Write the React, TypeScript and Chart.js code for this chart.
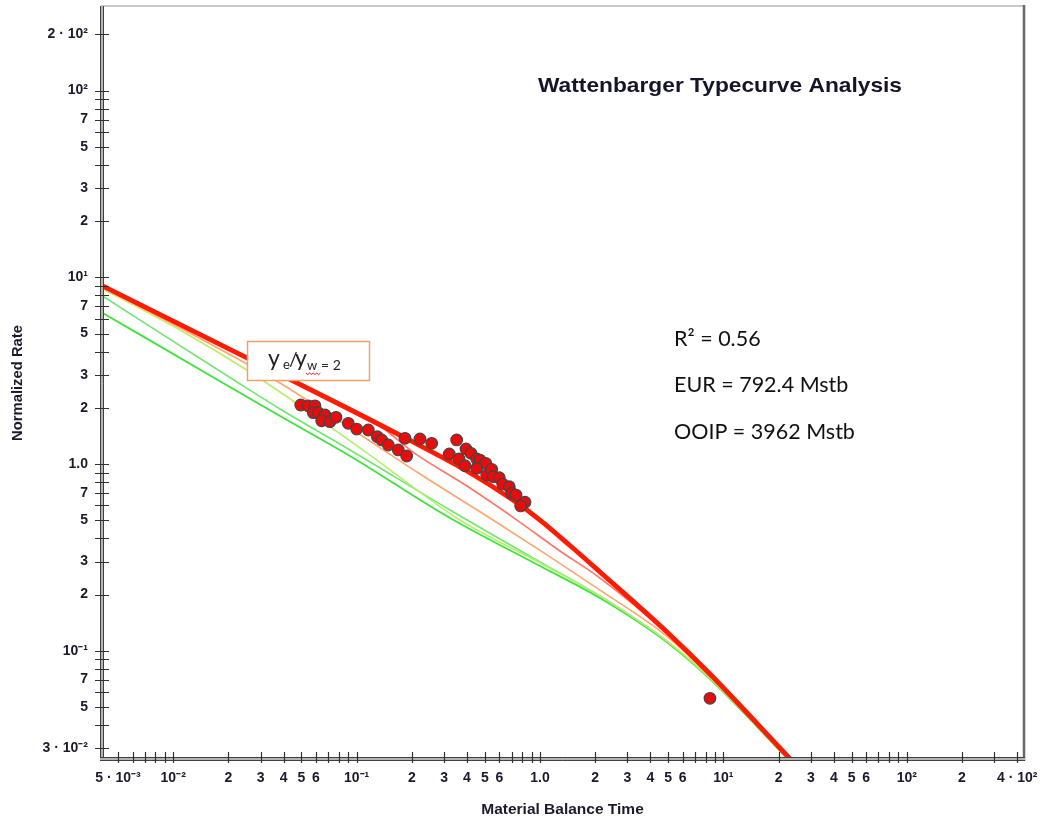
import React, { useEffect, useRef } from 'react';
import { Chart, registerables } from 'chart.js';

Chart.register(...registerables);

// ---- Tick values and labels ----
const X_TICKS = [0.005, 0.006, 0.007, 0.008, 0.009, 0.01, 0.02, 0.03, 0.04, 0.05, 0.06, 0.07, 0.08, 0.09, 0.1, 0.2, 0.3, 0.4, 0.5, 0.6, 0.7, 0.8, 0.9, 1, 2, 3, 4, 5, 6, 7, 8, 9, 10, 20, 30, 40, 50, 60, 70, 80, 90, 100, 200, 300, 400];
const X_LABELS = ['5 · 10⁻³', '', '', '', '', '10⁻²', '2', '3', '4', '5', '6', '', '', '', '10⁻¹', '2', '3', '4', '5', '6', '', '', '', '1.0', '2', '3', '4', '5', '6', '', '', '', '10¹', '2', '3', '4', '5', '6', '', '', '', '10²', '2', '', '4 · 10²'];
const Y_TICKS = [0.03, 0.04, 0.05, 0.06, 0.07, 0.08, 0.09, 0.1, 0.2, 0.3, 0.4, 0.5, 0.6, 0.7, 0.8, 0.9, 1, 2, 3, 4, 5, 6, 7, 8, 9, 10, 20, 30, 40, 50, 60, 70, 80, 90, 100, 200];
const Y_LABELS = ['3 · 10⁻²', '', '5', '', '7', '', '', '10⁻¹', '2', '3', '', '5', '', '7', '', '', '1.0', '2', '3', '', '5', '', '7', '', '', '10¹', '2', '3', '', '5', '', '7', '', '', '10²', '2 · 10²'];

// ---- Measured data (material balance time, normalized rate) ----
const DATA_MBT = [0.0496, 0.0545, 0.0593, 0.0581, 0.0618, 0.0673, 0.0645, 0.0716, 0.0772, 0.0901, 0.1001, 0.1158, 0.1297, 0.137, 0.1489, 0.1688, 0.1875, 0.1836, 0.2216, 0.2567, 0.3513, 0.3202, 0.3617, 0.3901, 0.395, 0.4205, 0.4517, 0.4709, 0.5058, 0.4517, 0.5122, 0.5452, 0.5563, 0.6001, 0.626, 0.6803, 0.7008, 0.7399, 0.8283, 0.7848, 8.45];
const DATA_RATE = [2.07, 2.05, 2.05, 1.883, 1.883, 1.831, 1.705, 1.685, 1.779, 1.652, 1.539, 1.521, 1.4, 1.345, 1.264, 1.189, 1.104, 1.373, 1.361, 1.291, 1.345, 1.131, 1.064, 0.979, 1.203, 1.141, 1.064, 1.05, 1.009, 0.948, 0.873, 0.937, 0.855, 0.845, 0.781, 0.756, 0.697, 0.682, 0.624, 0.596, 0.0556];

// ---- Type curves ----
const RED_T = [0.00404, 0.02526, 0.08866, 0.203, 0.3999, 0.7123, 1.0, 1.457, 2.124, 4.926, 8.454, 23.66];
const RED_Q = [9.09, 3.7, 1.995, 1.312, 0.917, 0.641, 0.501, 0.366, 0.264, 0.1259, 0.075, 0.0257];
const SALMON_T = [0.00404, 0.02526, 0.08866, 0.1341, 0.203, 0.3999, 0.749, 1.285, 2.124, 4.926, 8.454, 23.66];
const SALMON_Q = [9.09, 3.7, 1.983, 1.598, 1.159, 0.762, 0.501, 0.342, 0.245, 0.124, 0.0742, 0.0257];
const ORANGE_T = [0.00404, 0.02526, 0.03823, 0.09204, 0.2216, 0.5543, 1.134, 2.124, 4.926, 8.454, 23.66];
const ORANGE_Q = [8.98, 3.43, 2.716, 1.559, 0.884, 0.501, 0.318, 0.211, 0.1195, 0.0728, 0.0257];
const YG_T = [0.00404, 0.01089, 0.02623, 0.03823, 0.1183, 0.3663, 1.0, 2.124, 4.926, 8.454, 23.3];
const YG_Q = [8.76, 5.22, 3.11, 2.43, 1.117, 0.501, 0.295, 0.196, 0.1125, 0.0712, 0.0257];
const GU_T = [0.00404, 0.02228, 0.03823, 0.09204, 0.323, 1.0, 2.124, 4.926, 8.454, 22.98];
const GU_Q = [8.04, 2.749, 1.971, 1.189, 0.567, 0.2986, 0.1963, 0.1125, 0.0712, 0.0257];
const GL_T = [0.00404, 0.01869, 0.03823, 0.09204, 0.323, 1.0, 2.124, 4.926, 8.454, 22.98];
const GL_Q = [6.52, 2.716, 1.807, 1.104, 0.5137, 0.2842, 0.1915, 0.111, 0.0705, 0.0257];

const STATS = ['R² = 0.56', 'EUR = 792.4 Mstb', 'OOIP = 3962 Mstb'];
const TITLE = 'Wattenbarger Typecurve Analysis';

const AXIS_FONT = '"Liberation Sans", Arial, sans-serif';
const TEXT_FONT = 'Lato, "Open Sans", sans-serif';

function pts(xs: number[], ys: number[]) {
  return xs.map((x, i) => ({ x, y: ys[i] }));
}

function curve(xs: number[], ys: number[], color: string, width: number) {
  return {
    type: 'line' as const,
    data: pts(xs, ys),
    borderColor: color,
    backgroundColor: color,
    borderWidth: width,
    pointRadius: 0,
    showLine: true,
    cubicInterpolationMode: 'monotone' as const,
    fill: false,
  };
}

const overlayPlugin = {
  id: 'overlay',
  afterDatasetsDraw(chart: any) {
    const ctx: CanvasRenderingContext2D = chart.ctx;
    ctx.save();
    // annotation box
    ctx.fillStyle = '#ffffff';
    ctx.fillRect(247, 341, 123, 40);
    ctx.strokeStyle = '#f2a06a';
    ctx.lineWidth = 1.5;
    ctx.strokeRect(247.5, 341.5, 122, 39);
    ctx.fillStyle = '#222222';
    ctx.textBaseline = 'alphabetic';
    ctx.textAlign = 'left';
    ctx.font = '23px ' + TEXT_FONT;
    ctx.fillText('y', 268, 366);
    ctx.font = '13px ' + TEXT_FONT;
    ctx.fillText('e', 283, 369);
    ctx.font = '19px ' + TEXT_FONT;
    ctx.fillText('/', 289, 366);
    ctx.font = '23px ' + TEXT_FONT;
    ctx.fillText('y', 295, 366);
    ctx.font = '13px ' + TEXT_FONT;
    ctx.fillText('w', 307, 370);
    ctx.font = '14px ' + TEXT_FONT;
    ctx.fillText('= 2', 321, 370);
    // spell-check squiggle
    ctx.strokeStyle = '#e02020';
    ctx.lineWidth = 1;
    ctx.beginPath();
    for (let i = 0; i <= 8; i++) {
      const x = 306 + i * 1.8;
      const y = 373 + (i % 2 === 0 ? 0 : 1.6);
      if (i === 0) ctx.moveTo(x, y); else ctx.lineTo(x, y);
    }
    ctx.stroke();
    ctx.restore();
  },
  afterDraw(chart: any) {
    const ctx: CanvasRenderingContext2D = chart.ctx;
    const a = chart.chartArea;
    const xs = chart.scales.x;
    const ys = chart.scales.y;
    ctx.save();
    // top border
    ctx.strokeStyle = '#c8c8c8';
    ctx.lineWidth = 2;
    ctx.beginPath();
    ctx.moveTo(a.left, a.top - 1);
    ctx.lineTo(a.right, a.top - 1);
    ctx.stroke();
    // right border
    ctx.strokeStyle = '#6a6a6a';
    ctx.lineWidth = 2.5;
    ctx.beginPath();
    ctx.moveTo(a.right, a.top - 2);
    ctx.lineTo(a.right, a.bottom + 2);
    ctx.stroke();
    // left axis (double line)
    ctx.fillStyle = '#b4b4b4';
    ctx.fillRect(a.left - 1, a.top - 1, 4, a.bottom - a.top + 3);
    ctx.strokeStyle = '#404040';
    ctx.lineWidth = 1;
    ctx.beginPath();
    ctx.moveTo(a.left - 0.5, a.top - 1);
    ctx.lineTo(a.left - 0.5, a.bottom + 2);
    ctx.moveTo(a.left + 2.5, a.top - 1);
    ctx.lineTo(a.left + 2.5, a.bottom + 2);
    ctx.stroke();
    // bottom axis (double line)
    ctx.fillStyle = '#b4b4b4';
    ctx.fillRect(a.left - 1, a.bottom - 2, a.right - a.left + 2, 4);
    ctx.beginPath();
    ctx.moveTo(a.left - 1, a.bottom - 1.5);
    ctx.lineTo(a.right + 1, a.bottom - 1.5);
    ctx.moveTo(a.left - 1, a.bottom + 1.5);
    ctx.lineTo(a.right + 1, a.bottom + 1.5);
    ctx.stroke();
    // tick marks
    ctx.strokeStyle = '#303030';
    ctx.lineWidth = 1.2;
    ctx.beginPath();
    xs.ticks.forEach((t: any) => {
      const px = Math.round(xs.getPixelForValue(t.value)) + 0.5;
      ctx.moveTo(px, a.bottom - 7);
      ctx.lineTo(px, a.bottom + 4);
    });
    ys.ticks.forEach((t: any) => {
      const py = Math.round(ys.getPixelForValue(t.value)) + 0.5;
      ctx.moveTo(a.left - 6, py);
      ctx.lineTo(a.left + 8, py);
    });
    ctx.stroke();
    // title
    ctx.fillStyle = '#15152a';
    ctx.textBaseline = 'alphabetic';
    ctx.textAlign = 'left';
    ctx.font = 'bold 20.5px ' + AXIS_FONT;
    const tw = ctx.measureText(TITLE).width;
    ctx.save();
    ctx.translate(538, 91.5);
    ctx.scale(364 / tw, 1);
    ctx.fillText(TITLE, 0, 0);
    ctx.restore();
    // stats
    ctx.fillStyle = '#111111';
    ctx.font = '21.5px ' + TEXT_FONT;
    ctx.fillText(STATS[0], 674, 345.5);
    ctx.fillText(STATS[1], 674, 392);
    ctx.fillText(STATS[2], 674, 439);
    ctx.restore();
  },
};

export default function App() {
  const ref = useRef<HTMLCanvasElement | null>(null);
  useEffect(() => {
    if (!ref.current) return;
    const chart = new Chart(ref.current, {
      type: 'scatter',
      data: {
        datasets: [
          {
            type: 'scatter',
            data: pts(DATA_MBT, DATA_RATE),
            backgroundColor: '#e80c0c',
            borderColor: '#454545',
            borderWidth: 1.2,
            pointRadius: 5.8,
            showLine: false,
          } as any,
          curve(RED_T, RED_Q, '#ff1a00', 4.8),
          curve(SALMON_T, SALMON_Q, '#ff7566', 1.6),
          curve(ORANGE_T, ORANGE_Q, '#ffa56e', 1.6),
          curve(YG_T, YG_Q, '#b6f06c', 1.6),
          curve(GU_T, GU_Q, '#70e670', 1.6),
          curve(GL_T, GL_Q, '#3fe33f', 1.9),
        ],
      },
      options: {
        animation: false,
        responsive: false,
        maintainAspectRatio: false,
        layout: { padding: { left: 0, right: 20, top: 7, bottom: 0 } },
        plugins: { legend: { display: false }, tooltip: { enabled: false }, title: { display: false } },
        scales: {
          x: {
            type: 'logarithmic',
            min: 0.00404,
            max: 435.6,
            grid: { display: false, drawTicks: false },
            border: { display: false },
            afterBuildTicks: (s: any) => {
              s.ticks = X_TICKS.map((v) => ({ value: v }));
            },
            afterFit: (s: any) => {
              s.height = 61;
              s.paddingLeft = 0;
              s.paddingRight = 0;
            },
            ticks: {
              autoSkip: false,
              maxRotation: 0,
              minRotation: 0,
              padding: 11,
              color: '#1a1a2c',
              font: { family: AXIS_FONT, size: 14, weight: 'bold' },
              callback: (_v: any, i: number) => X_LABELS[i],
            },
            title: {
              display: true,
              text: 'Material Balance Time',
              color: '#1a1a2c',
              font: { family: AXIS_FONT, size: 15.5, weight: 'bold' },
              padding: { top: 0, bottom: 1 },
            },
          },
          y: {
            type: 'logarithmic',
            min: 0.0263,
            max: 280.4,
            grid: { display: false, drawTicks: false },
            border: { display: false },
            afterBuildTicks: (s: any) => {
              s.ticks = Y_TICKS.map((v) => ({ value: v }));
            },
            afterFit: (s: any) => {
              s.width = 101;
              s.paddingTop = 0;
              s.paddingBottom = 0;
            },
            ticks: {
              autoSkip: false,
              padding: 13,
              color: '#1a1a2c',
              font: { family: AXIS_FONT, size: 14, weight: 'bold' },
              callback: (_v: any, i: number) => Y_LABELS[i],
            },
            title: {
              display: true,
              text: 'Normalized Rate',
              color: '#1a1a2c',
              font: { family: AXIS_FONT, size: 14.8, weight: 'bold' },
              padding: { top: 9, bottom: 0 },
            },
          },
        },
      } as any,
      plugins: [overlayPlugin],
    });
    return () => chart.destroy();
  }, []);

  return (
    <div style={{ position: 'fixed', left: 0, top: 0, width: 1044, height: 820, background: '#ffffff' }}>
      <canvas ref={ref} width={1044} height={820} style={{ display: 'block', width: 1044, height: 820 }} />
    </div>
  );
}
